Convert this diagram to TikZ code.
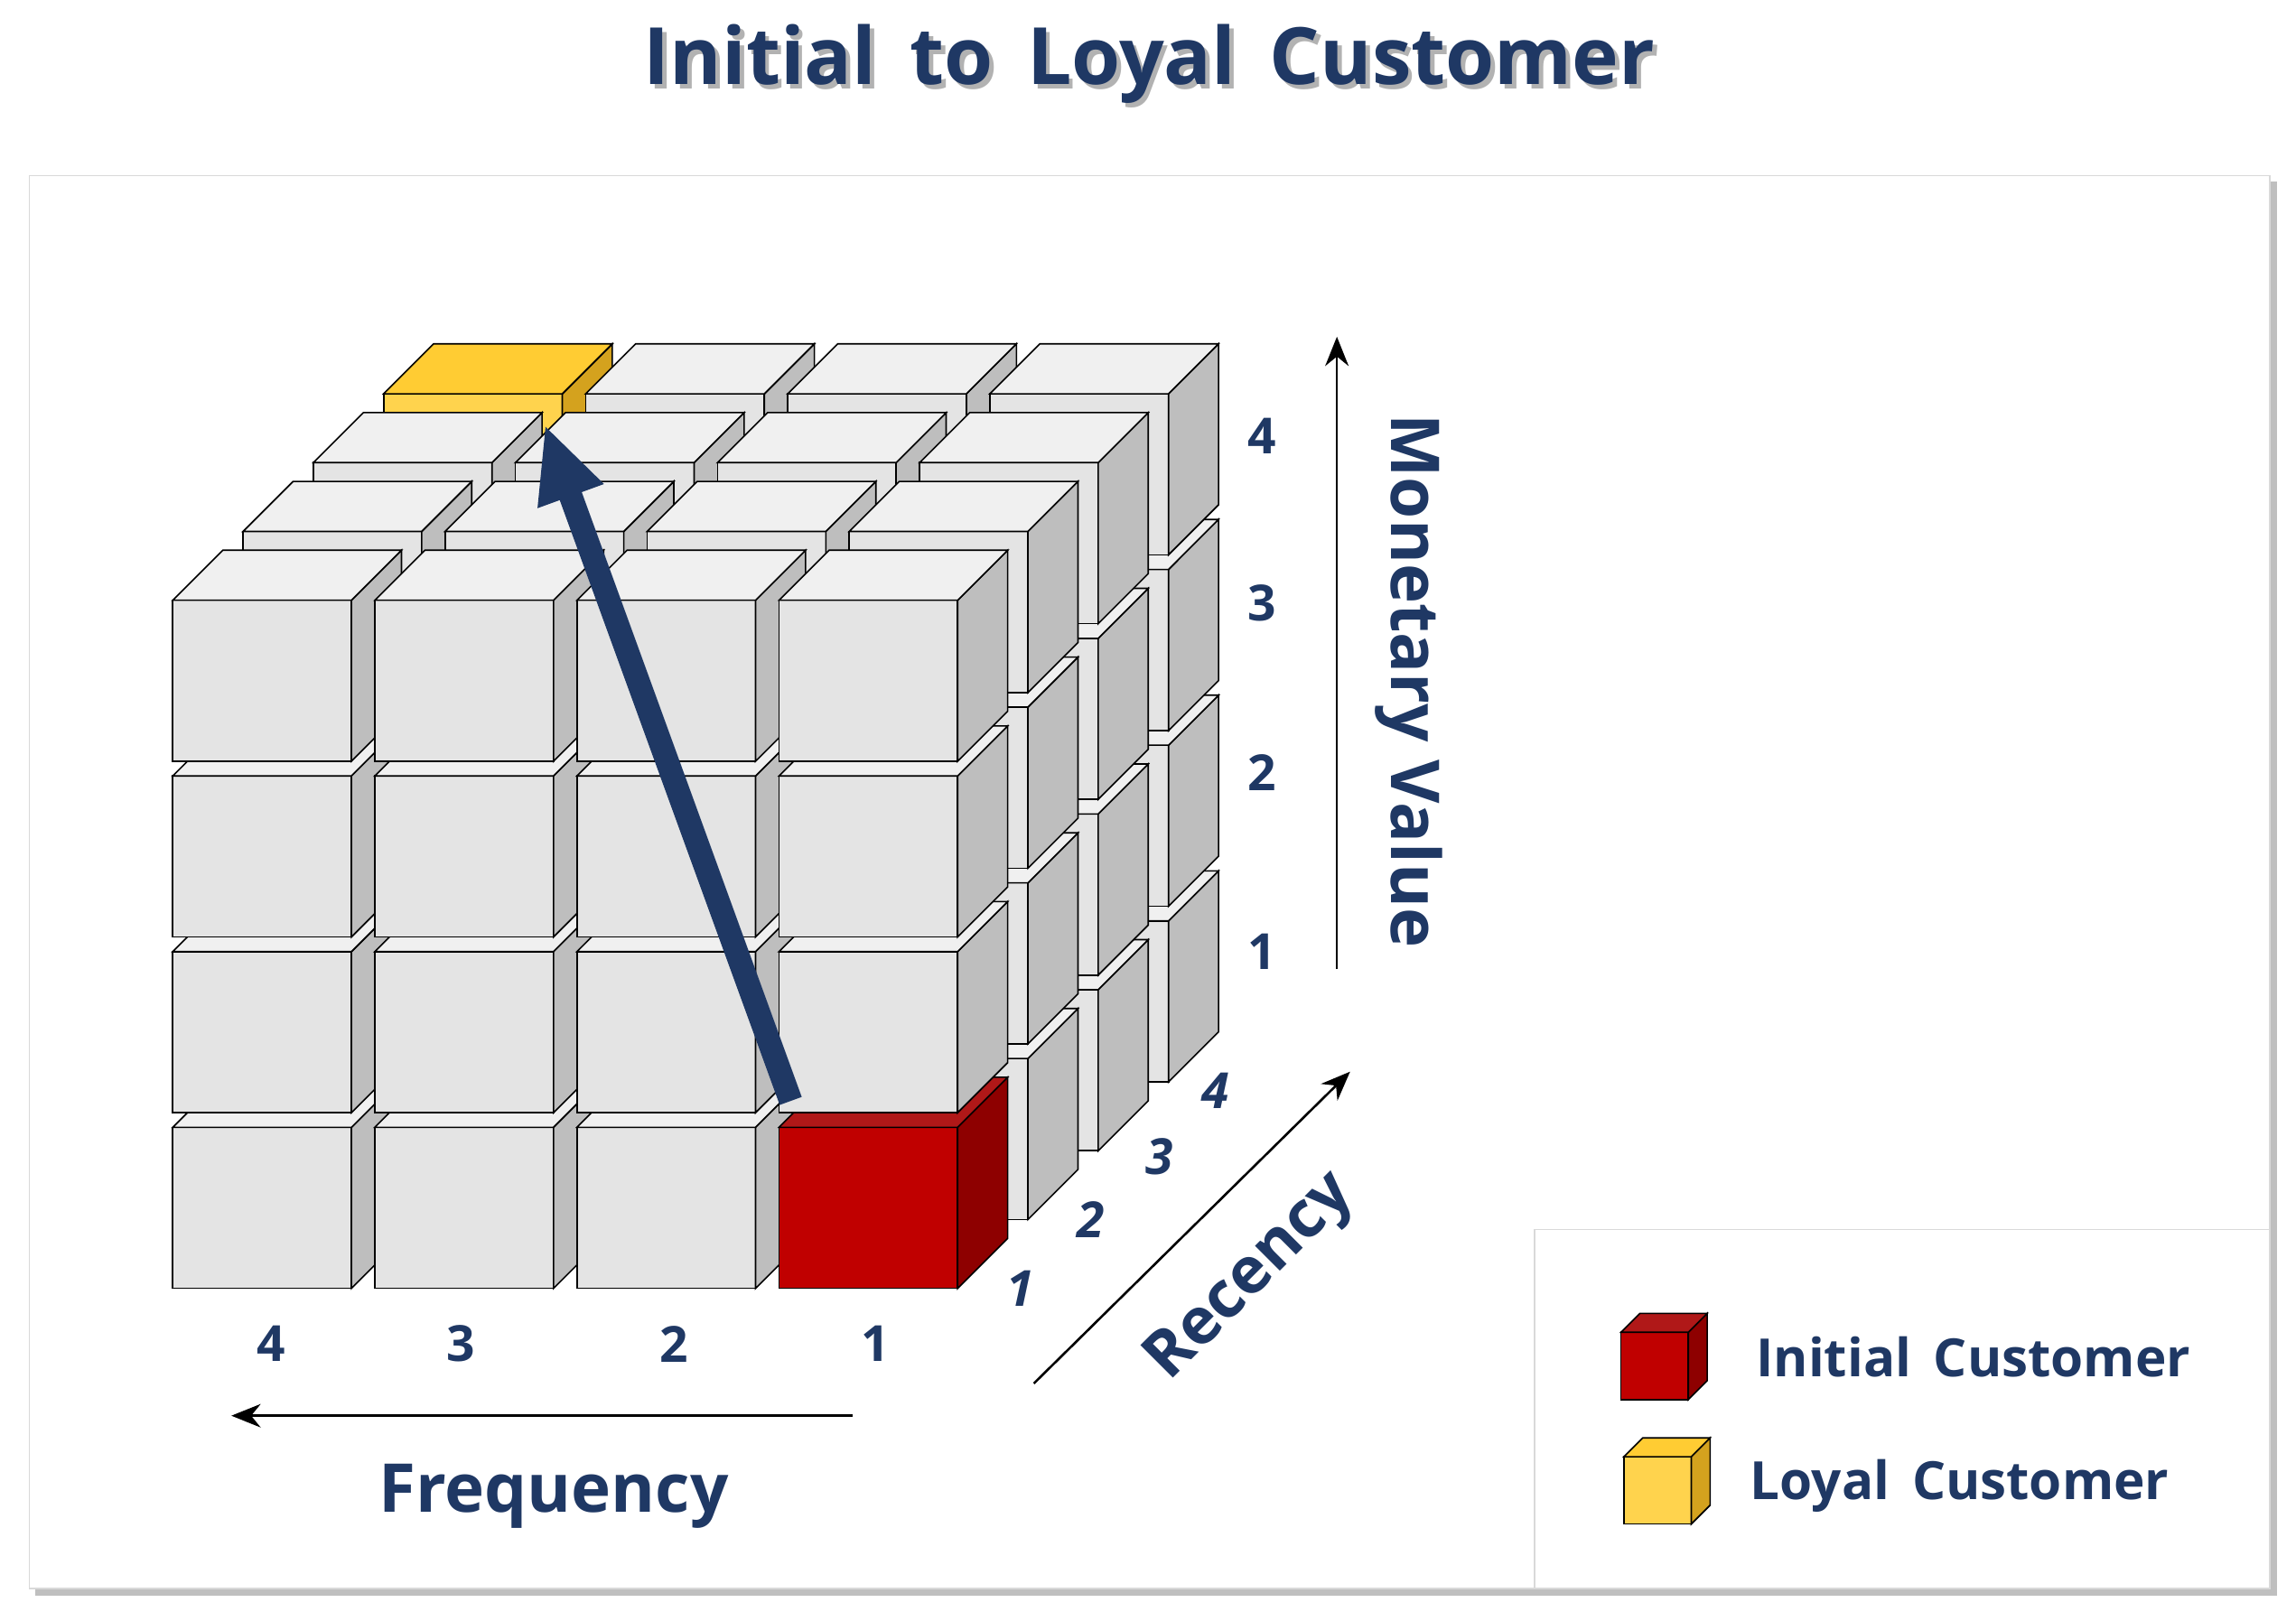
\documentclass[tikz,border=0pt]{standalone}
\usepackage{fontspec}
\setmainfont{Open Sans}
\usetikzlibrary{arrows.meta}
\definecolor{navy}{HTML}{1F3864}
\definecolor{gF}{HTML}{E4E4E4}\definecolor{gS}{HTML}{BEBEBE}\definecolor{gT}{HTML}{F0F0F0}
\definecolor{rF}{HTML}{C00000}\definecolor{rS}{HTML}{8E0000}\definecolor{rT}{HTML}{B01818}
\definecolor{yF}{HTML}{FFD34D}\definecolor{yS}{HTML}{D4A21E}\definecolor{yT}{HTML}{FFCC33}
\newcommand\mycube[7]{% x y w h front side top
  \filldraw[fill=#5,draw=black,line width=0.5pt] (#1,#2) rectangle ++(#3,-#4);
  \filldraw[fill=#6,draw=black,line width=0.5pt] (#1,#2) ++(#3,0) -- ++(0.28*#3,-0.28*#3) -- ++(0,-#4) -- ++(-0.28*#3,0.28*#3) -- cycle;
  \filldraw[fill=#7,draw=black,line width=0.5pt] (#1,#2) ++(0,-#4) -- ++(#3,0) -- ++(0.28*#3,-0.28*#3) -- ++(-#3,0) -- cycle;}
\tikzset{lbl/.style={text=navy,font=\bfseries,inner sep=1pt},dig/.style={text=navy,inner sep=1pt,font=\bfseries\fontsize{17}{20}\selectfont},
  ax/.style={-{Stealth[length=10pt,width=8pt]},line width=0.8pt}}
\begin{document}
\begin{tikzpicture}[x=0.5pt,y=-0.5pt]
\useasboundingbox (0,0) rectangle (1568,1107);
\fill[white] (0,0) rectangle (1568,1107);
% panel
\fill[black!25] (24,124) rectangle (1555,1090);
\filldraw[fill=white,draw=black!15] (20,120) rectangle (1550,1085);
\node[lbl,font=\bfseries\fontsize{27}{30}\selectfont] (title) at (785,45) {\pgfsetfillcolor{black!30}\rlap{\raisebox{-1.5pt}{\hspace{1.5pt}Initial\, to\, Loyal\, Customer}}\pgfsetfillcolor{navy}Initial\, to\, Loyal\, Customer};
% cubes
\foreach \k in {3,2,1,0}{
 \foreach \r in {0,1,2,3}{
  \foreach \c in {0,1,2,3}{
   \pgfmathsetmacro\xx{118+138*\c+48*\k}
   \pgfmathsetmacro\yy{880-120*\r-47*\k}
   \pgfmathtruncatemacro\code{\c*100+\r*10+\k}
   \ifnum\code=300
     \mycube{\xx}{\yy}{122}{110}{rF}{rS}{rT}
   \else\ifnum\code=33
     \mycube{\xx}{\yy}{122}{110}{yF}{yS}{yT}
   \else
     \mycube{\xx}{\yy}{122}{110}{gF}{gS}{gT}
   \fi\fi
 }}}
% big arrow
\coordinate (s) at (540,752);
\coordinate (e) at (372,290);
\draw[navy,line width=8pt,-{Triangle[length=26pt,width=22pt]}] (s) -- (e);
% monetary axis
\coordinate (m0) at (913,662); \coordinate (m1) at (913,230);
\draw[ax] (m0) -- (m1);
\node[dig] (m4) at (862,298) {4};
\node[dig] (m3) at (862,412) {3};
\node[dig] (m2) at (862,528) {2};
\node[dig] (m1l) at (862,650) {1};
\node[lbl,font=\bfseries\fontsize{23}{26}\selectfont,rotate=-90] (mv) at (962,465) {Monetary Value};
% recency axis
\coordinate (r0) at (706,945); \coordinate (r1) at (922,732);
\draw[ax] (r0) -- (r1);
\node[dig,font=\bfseries\itshape\fontsize{17}{20}\selectfont] (rc1) at (697,880) {1};
\node[dig,font=\bfseries\itshape\fontsize{17}{20}\selectfont] (rc2) at (745,833) {2};
\node[dig,font=\bfseries\itshape\fontsize{17}{20}\selectfont] (rc3) at (792,790) {3};
\node[dig,font=\bfseries\itshape\fontsize{17}{20}\selectfont] (rc4) at (830,745) {4};
\node[lbl,font=\bfseries\fontsize{22}{24}\selectfont,rotate=45] (rec) at (855,873) {Recency};
% frequency axis
\coordinate (f0) at (582,967); \coordinate (f1) at (158,967);
\draw[ax] (f0) -- (f1);
\node[dig] (f4) at (185,918) {4};
\node[dig] (f3) at (315,918) {3};
\node[dig] (f2) at (460,918) {2};
\node[dig] (f1l) at (598,918) {1};
\node[lbl,font=\bfseries\fontsize{23}{26}\selectfont] (freq) at (378,1022) {Frequency};
% legend
\fill[black!25] (1052,844) rectangle (1555,1090);
\filldraw[fill=white,draw=black!15] (1048,840) rectangle (1550,1085);
\mycube{1107}{956}{46}{46}{rF}{rS}{rT}
\mycube{1109}{1041}{46}{46}{yF}{yS}{yT}
\node[lbl,font=\bfseries\fontsize{18}{21}\selectfont,anchor=west] (li) at (1197,927) {Initial\, Customer};
\node[lbl,font=\bfseries\fontsize{18}{21}\selectfont,anchor=west] (ll) at (1193,1015) {Loyal\, Customer};
\end{tikzpicture}
\end{document}
